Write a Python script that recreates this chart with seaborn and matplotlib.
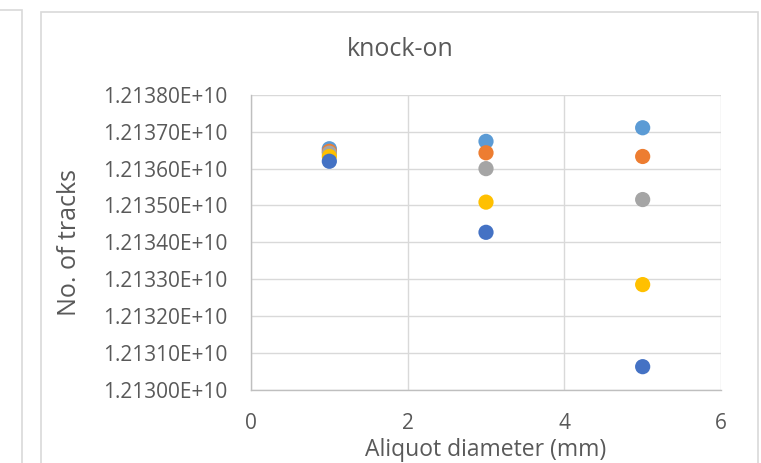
import matplotlib
matplotlib.use("Agg")
import matplotlib.pyplot as plt
import seaborn as sns
import pandas as pd
from matplotlib.patches import Rectangle
from matplotlib.ticker import FuncFormatter

# Data (values in units of 1e6 tracks)
diameters = [1, 3, 5]
series_names = ["S1", "S2", "S3", "S4", "S5"]
s1_light_blue = [12136.54, 12136.74, 12137.11]
s2_orange = [12136.47, 12136.43, 12136.33]
s3_gray = [12136.42, 12136.00, 12135.16]
s4_yellow = [12136.33, 12135.09, 12132.85]
s5_dark_blue = [12136.20, 12134.27, 12130.62]
colors = ["#5B9BD5", "#ED7D31", "#A5A5A5", "#FFC000", "#4472C4"]

all_vals = [s1_light_blue, s2_orange, s3_gray, s4_yellow, s5_dark_blue]
rows = []
for name, vals in zip(series_names, all_vals):
    for d, v in zip(diameters, vals):
        rows.append({"diameter": d, "tracks": v * 1e6, "series": name})
df = pd.DataFrame(rows)

sns.set_style("white")
plt.rcParams["font.family"] = ["Open Sans", "DejaVu Sans"]
txt = "#595959"

fig = plt.figure(figsize=(7.61, 4.63), dpi=100)
W, H = 761, 463

# chart frames
fig.patches.append(Rectangle((-50 / W, -0.1), (22 + 50) / W, (463 - 10 + 46) / H,
                             transform=fig.transFigure, fill=False, edgecolor="#D9D9D9", lw=1.2))
fig.patches.append(Rectangle((41 / W, -0.1), (758 - 41) / W, (463 - 12 + 46) / H,
                             transform=fig.transFigure, fill=False, edgecolor="#D9D9D9", lw=1.2))

ax = fig.add_axes([251 / W, (463 - 389.5) / H, 470 / W, 294.5 / H])
sns.scatterplot(data=df, x="diameter", y="tracks", hue="series", palette=colors,
                s=120, edgecolor="none", legend=False, ax=ax, zorder=3)

ax.set_xlim(0, 6)
ax.set_ylim(1.21300e10, 1.21380e10)
ax.set_xticks([0, 2, 4, 6])
ax.set_yticks([1.21300e10 + i * 1e6 for i in range(9)])
ax.yaxis.set_major_formatter(FuncFormatter(lambda v, p: f"{v:.5E}"))
ax.grid(True, color="#D9D9D9", lw=1)
ax.set_axisbelow(True)
for side in ["top", "right"]:
    ax.spines[side].set_visible(False)
for side in ["left", "bottom"]:
    ax.spines[side].set_color("#BFBFBF")
    ax.spines[side].set_linewidth(1)
ax.tick_params(axis="both", length=0, colors=txt, labelsize=15)
ax.tick_params(axis="y", pad=17)
ax.tick_params(axis="x", pad=17)

ax.set_xlabel("Aliquot diameter (mm)", color=txt, fontsize=16.5)
ax.xaxis.set_label_coords(0.5, -(450 - 389.5) / 294.5)
ax.xaxis.label.set_va("center")
ax.set_ylabel("No. of tracks", color=txt, fontsize=18)
ax.yaxis.set_label_coords(-(251 - 69) / 470, 0.5)
ax.yaxis.label.set_va("center")
fig.text(400 / W, 1 - 49 / H, "knock-on", ha="center", va="center",
         color=txt, fontsize=18)

fig.savefig("out.png", dpi=100)
